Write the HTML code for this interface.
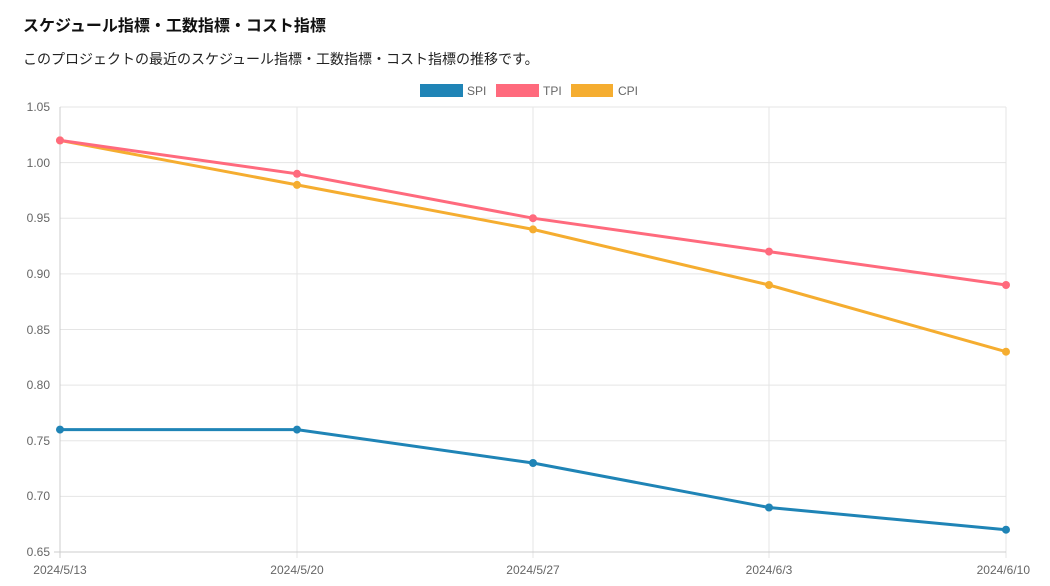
<!DOCTYPE html>
<html><head><meta charset="utf-8"><style>
body{margin:0;background:#fff;width:1050px;height:586px;overflow:hidden;font-family:"Liberation Sans","Noto Sans CJK JP",sans-serif;}
.t{position:absolute;left:23px;top:12px;font-size:16px;font-weight:bold;color:#111;}
.s{position:absolute;left:23px;top:49px;font-size:14px;color:#222;}
svg{position:absolute;left:0;top:0}
</style></head><body>
<div class="t">スケジュール指標・工数指標・コスト指標</div>
<div class="s">このプロジェクトの最近のスケジュール指標・工数指標・コスト指標の推移です。</div>
<svg width="1050" height="586" font-family="Liberation Sans, sans-serif" font-size="12" fill="#666">
<g stroke="#e5e5e5" stroke-width="1">
<line x1="60" y1="107" x2="1006" y2="107"/><line x1="60" y1="162.6" x2="1006" y2="162.6"/>
<line x1="60" y1="218.2" x2="1006" y2="218.2"/><line x1="60" y1="273.9" x2="1006" y2="273.9"/>
<line x1="60" y1="329.5" x2="1006" y2="329.5"/><line x1="60" y1="385.1" x2="1006" y2="385.1"/>
<line x1="60" y1="440.7" x2="1006" y2="440.7"/><line x1="60" y1="496.4" x2="1006" y2="496.4"/>
<line x1="297" y1="107" x2="297" y2="558"/><line x1="533" y1="107" x2="533" y2="558"/>
<line x1="769" y1="107" x2="769" y2="558"/><line x1="1006" y1="107" x2="1006" y2="558"/>
</g>
<g stroke="#ccc"><line x1="60" y1="552" x2="1006" y2="552"/><line x1="60" y1="107" x2="60" y2="558"/><line x1="54" y1="552" x2="60" y2="552"/></g>
<g text-anchor="end">
<text x="50" y="111">1.05</text><text x="50" y="167">1.00</text><text x="50" y="222">0.95</text>
<text x="50" y="278">0.90</text><text x="50" y="334">0.85</text><text x="50" y="389">0.80</text>
<text x="50" y="445">0.75</text><text x="50" y="500">0.70</text><text x="50" y="556">0.65</text>
</g>
<g text-anchor="middle">
<text x="60" y="574">2024/5/13</text><text x="297" y="574">2024/5/20</text><text x="533" y="574">2024/5/27</text>
<text x="769" y="574">2024/6/3</text><text x="1006" y="574" text-anchor="end" dx="24">2024/6/10</text>
</g>
<rect x="420" y="84" width="43" height="13" fill="#1f84b6"/><text x="467" y="95">SPI</text>
<rect x="496" y="84" width="43" height="13" fill="#ff6a7d"/><text x="543" y="95">TPI</text>
<rect x="571" y="84" width="42" height="13" fill="#f5ad30"/><text x="618" y="95">CPI</text>
<g fill="none" stroke-width="3">
<polyline stroke="#1f84b6" points="60,429.6 297,429.6 533,463 769,507.5 1006,529.7"/>
<polyline stroke="#f5ad30" points="60,140.4 297,184.9 533,229.4 769,285 1006,351.7"/>
<polyline stroke="#ff6a7d" points="60,140.4 297,173.8 533,218.2 769,251.6 1006,285"/>
</g>
<g fill="#1f84b6"><circle cx="60" cy="429.6" r="4"/><circle cx="297" cy="429.6" r="4"/><circle cx="533" cy="463" r="4"/><circle cx="769" cy="507.5" r="4"/><circle cx="1006" cy="529.7" r="4"/></g>
<g fill="#f5ad30"><circle cx="60" cy="140.4" r="4"/><circle cx="297" cy="184.9" r="4"/><circle cx="533" cy="229.4" r="4"/><circle cx="769" cy="285" r="4"/><circle cx="1006" cy="351.7" r="4"/></g>
<g fill="#ff6a7d"><circle cx="60" cy="140.4" r="4"/><circle cx="297" cy="173.8" r="4"/><circle cx="533" cy="218.2" r="4"/><circle cx="769" cy="251.6" r="4"/><circle cx="1006" cy="285" r="4"/></g>
</svg>
</body></html>
